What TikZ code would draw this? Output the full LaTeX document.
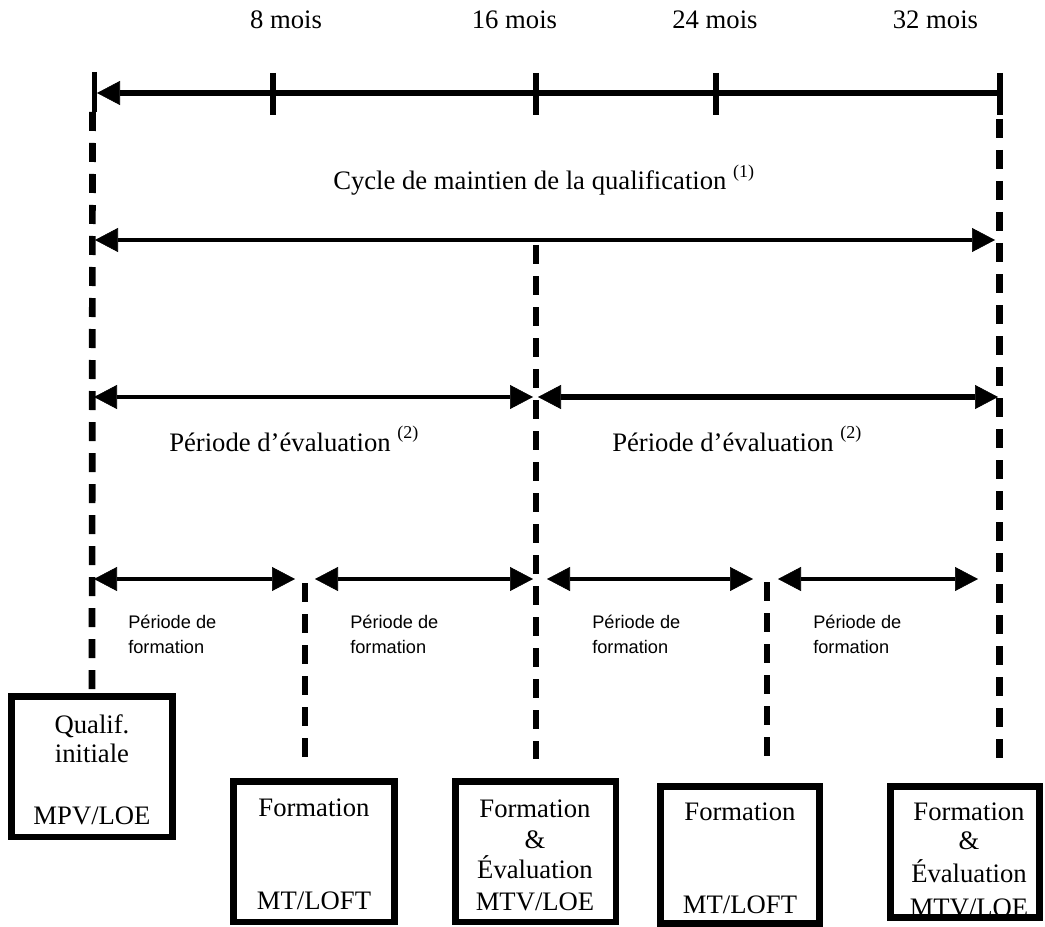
\documentclass[tikz,border=0pt]{standalone}
\usepackage{fontspec}
\setmainfont{Liberation Serif}
\newfontfamily\sansf{Liberation Sans}
\usetikzlibrary{arrows.meta}
\newcommand\fnm[1]{\raisebox{9.5pt}{\fontsize{13.5}{14}\selectfont(#1)}}
\begin{document}
\begin{tikzpicture}[x=0.75pt,y=-0.75pt,
  >={Triangle[length=17.25pt,width=18pt,line width=0.4pt]},
  serif/.style={font=\fontsize{20}{24}\selectfont, inner sep=0pt, anchor=base},
  sanslbl/.style={font=\sansf\fontsize{13.65}{16}\selectfont, inner sep=0pt, anchor=base west},
  tk/.style={line width=4.9pt},
  dsh/.style={line width=5pt, dash pattern=on 14.25pt off 9pt},
  box/.style={draw, line width=4.9pt, inner sep=0pt},
  thinar/.style={line width=2.5pt,<->},
]
\useasboundingbox (0,0) rectangle (1045,927);

% ---- time axis ----
\coordinate (ax0) at (97,93);
\coordinate (ax32) at (1000,93);
\draw[line width=4.5pt,<-] (ax0) -- (ax32);
\coordinate (tt0) at (94.5,72); \coordinate (tb0) at (94.5,112);
\draw[line width=3.75pt] (tt0) -- (tb0);
\foreach \n/\x in {8/273,16/536,24/716,32/1000}{
  \coordinate (tt\n) at (\x,73); \coordinate (tb\n) at (\x,115);
  \draw[tk] (tt\n) -- (tb\n);
}
\node[serif] (l8)  at (286,29)   {8 mois};
\node[serif] (l16) at (514.5,29) {16 mois};
\node[serif] (l24) at (715,29)   {24 mois};
\node[serif] (l32) at (935.5,29) {32 mois};

% ---- cycle ----
\node[serif, anchor=base west] (cyc) at (333,190) {Cycle de maintien de la qualification \fnm{1}};
\coordinate (c0) at (95,240); \coordinate (c1) at (995,240);
\draw[line width=3.4pt,<->] (c0) -- (c1);

% ---- evaluation periods ----
\coordinate (e0) at (94,397); \coordinate (e1) at (533,397);
\coordinate (e2) at (538,397); \coordinate (e3) at (998,397);
\draw[line width=2.6pt,<->] (e0) -- (e1);
\draw[line width=4.5pt,<->] (e2) -- (e3);
\node[serif, anchor=base west] (ev1) at (169,451) {Période d’évaluation \fnm{2}};
\node[serif, anchor=base west] (ev2) at (612,451) {Période d’évaluation \fnm{2}};

% ---- training periods ----
\coordinate (f1a) at (94,579);  \coordinate (f1b) at (295,579);
\coordinate (f2a) at (315,579); \coordinate (f2b) at (533,579);
\coordinate (f3a) at (547,579); \coordinate (f3b) at (753,579);
\coordinate (f4a) at (778,579); \coordinate (f4b) at (978,579);
\draw[thinar] (f1a) -- (f1b);
\draw[thinar] (f2a) -- (f2b);
\draw[thinar] (f3a) -- (f3b);
\draw[thinar] (f4a) -- (f4b);
\foreach \i/\x in {1/128,2/350,3/592,4/813}{
  \node[sanslbl] (pa\i) at (\x,628) {Période de};
  \node[sanslbl] (pb\i) at (\x,653) {formation};
}

% ---- box texts ----
\node[serif] (q1) at (92,733) {Qualif.};
\node[serif] (q2) at (92,762) {initiale};
\node[serif] (q3) at (92,824) {MPV/LOE};
\node[serif] (r1) at (314,816) {Formation};
\node[serif] (r2) at (314,909) {MT/LOFT};
\node[serif] (s1) at (535,817) {Formation};
\node[serif] (s2) at (535,848) {\&};
\node[serif] (s3) at (535,878) {Évaluation};
\node[serif] (s4) at (535,910) {MTV/LOE};
\node[serif] (u1) at (740,820) {Formation};
\node[serif] (u2) at (740,913) {MT/LOFT};
\node[serif] (v1) at (969,820) {Formation};
\node[serif] (v2) at (969,849) {\&};
\node[serif] (v3) at (969,882) {Évaluation};
\node[serif] (v4) at (969,916) {MTV/LOE};

% ---- boxes ----
\node[box, minimum width=121.1pt, minimum height=105.4pt] (b1) at (92,766.5) {};
\node[box, minimum width=121.1pt, minimum height=105.4pt] (b2) at (314,851.5) {};
\node[box, minimum width=120.4pt, minimum height=105.4pt] (b3) at (535.5,851.5) {};
\node[box, minimum width=119.6pt, minimum height=103.1pt] (b4) at (740,855) {};
\node[box, minimum width=112.1pt, minimum height=98.6pt] (b5) at (965,852) {};

% ---- dashed guide lines ----
\coordinate (d0) at (92.5,112);
\draw[dsh] (d0) -- (b1.north);
\coordinate (d1s) at (305,583); \coordinate (d1e) at (305,757);
\coordinate (d2s) at (536,245); \coordinate (d2e) at (536,759);
\coordinate (d3s) at (767,582); \coordinate (d3e) at (767,756);
\coordinate (d4s) at (999.5,119); \coordinate (d4e) at (999.5,760);
\draw[dsh] (d1s) -- (d1e);
\draw[dsh] (d2s) -- (d2e);
\draw[dsh] (d3s) -- (d3e);
\draw[dsh] (d4s) -- (d4e);
\end{tikzpicture}
\end{document}
